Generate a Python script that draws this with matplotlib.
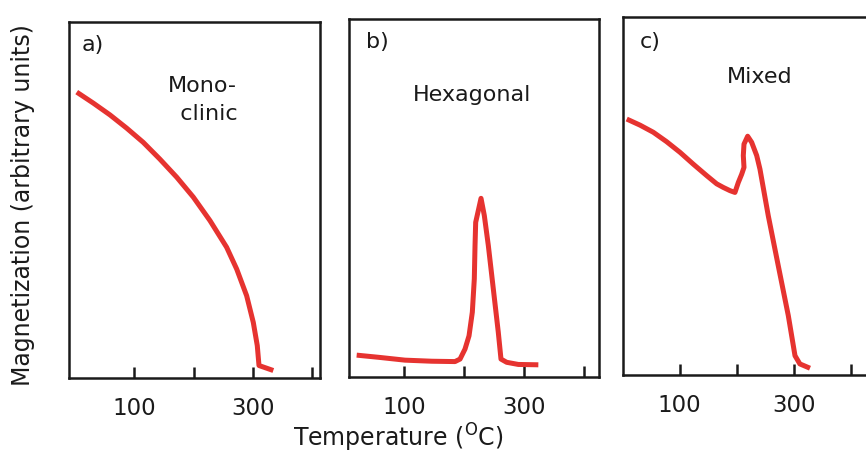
import matplotlib
matplotlib.use("Agg")
import matplotlib.pyplot as plt

# panel a) monoclinic
temp_a = [3, 31, 59, 87, 115, 143, 171.5, 199.5, 227.6, 255.7, 272.6, 289.4, 300.6,
          307.3, 310.2, 334.3]
mag_a = [0.803, 0.772, 0.739, 0.702, 0.662, 0.615, 0.564, 0.508, 0.442, 0.367, 0.306,
         0.231, 0.156, 0.091, 0.035, 0.021]

# panel b) hexagonal
temp_b = [20.8, 57, 101.4, 146, 184.8, 193.2, 201.5, 208.2, 213.7, 217, 218.2, 219.3,
          223.7, 228.2, 233.7, 240.4, 248.7, 257, 261.5, 271, 290.4, 323.8]
mag_b = [0.061, 0.055, 0.047, 0.044, 0.043, 0.050, 0.078, 0.115, 0.181, 0.274, 0.367,
         0.432, 0.465, 0.499, 0.451, 0.367, 0.246, 0.125, 0.050, 0.041, 0.035, 0.034]

# panel c) mixed
temp_c = [7.5, 30.7, 54, 77, 100.6, 123.8, 147.2, 164.7, 176.2, 187.9, 196.6, 202.5,
          208.4, 212.4, 211.2, 212.4, 218.8, 225.8, 234.6, 240.3, 254.8, 272.3, 289.8,
          301.5, 310, 327.7]
mag_c = [0.715, 0.698, 0.678, 0.652, 0.622, 0.589, 0.557, 0.534, 0.524, 0.515, 0.510,
         0.538, 0.561, 0.580, 0.613, 0.645, 0.667, 0.650, 0.613, 0.575, 0.445, 0.305,
         0.166, 0.054, 0.031, 0.019]

panel_tags = ["a)", "b)", "c)"]
panel_names = ["Mono-\n  clinic", "Hexagonal", "Mixed"]
tick_major = [100, 300]
tick_minor = [200, 400]

RED = "#e63330"
INK = "#1a1a1a"

fig = plt.figure(figsize=(8.66, 4.56), dpi=100)

panels = [
    dict(rect=[0.0797, 0.1689, 0.2898, 0.7807], xlim=(-10, 413), t=temp_a, m=mag_a,
         tag=(0.052, 0.938), name=(0.53, 0.785)),
    dict(rect=[0.4030, 0.1711, 0.2887, 0.7851], xlim=(8, 425), t=temp_b, m=mag_b,
         tag=(0.068, 0.939), name=(0.492, 0.79)),
    dict(rect=[0.7194, 0.1754, 0.2875, 0.7851], xlim=(1, 436), t=temp_c, m=mag_c,
         tag=(0.068, 0.933), name=(0.55, 0.835)),
]

for i, p in enumerate(panels):
    ax = fig.add_axes(p["rect"])
    ax.plot(p["t"], p["m"], color=RED, lw=3.6, solid_joinstyle="round",
            solid_capstyle="butt")
    ax.set_xlim(*p["xlim"])
    ax.set_ylim(0, 1)
    ax.set_xticks(tick_major)
    ax.set_xticks(tick_minor, minor=True)
    ax.set_xticklabels([str(v) for v in tick_major], fontsize=16.5, color=INK)
    ax.tick_params(axis="x", which="both", direction="in", length=8, width=1.8,
                   color=INK, pad=13)
    ax.set_yticks([])
    for s in ax.spines.values():
        s.set_linewidth(1.8)
        s.set_color(INK)
    ax.text(*p["tag"], panel_tags[i], transform=ax.transAxes, fontsize=16,
            ha="left", va="center", color=INK)
    ax.text(*p["name"], panel_names[i], transform=ax.transAxes, fontsize=16,
            ha="center", va="center", color=INK, linespacing=1.5)

fig.text(0.46, 0.039, r"Temperature ($^{\mathrm{O}}$C)", fontsize=17,
         ha="center", va="center", color=INK)
fig.text(0.026, 0.55, "Magnetization (arbitrary units)", fontsize=17,
         rotation=90, ha="center", va="center", color=INK)

fig.savefig("out.png", dpi=100)
